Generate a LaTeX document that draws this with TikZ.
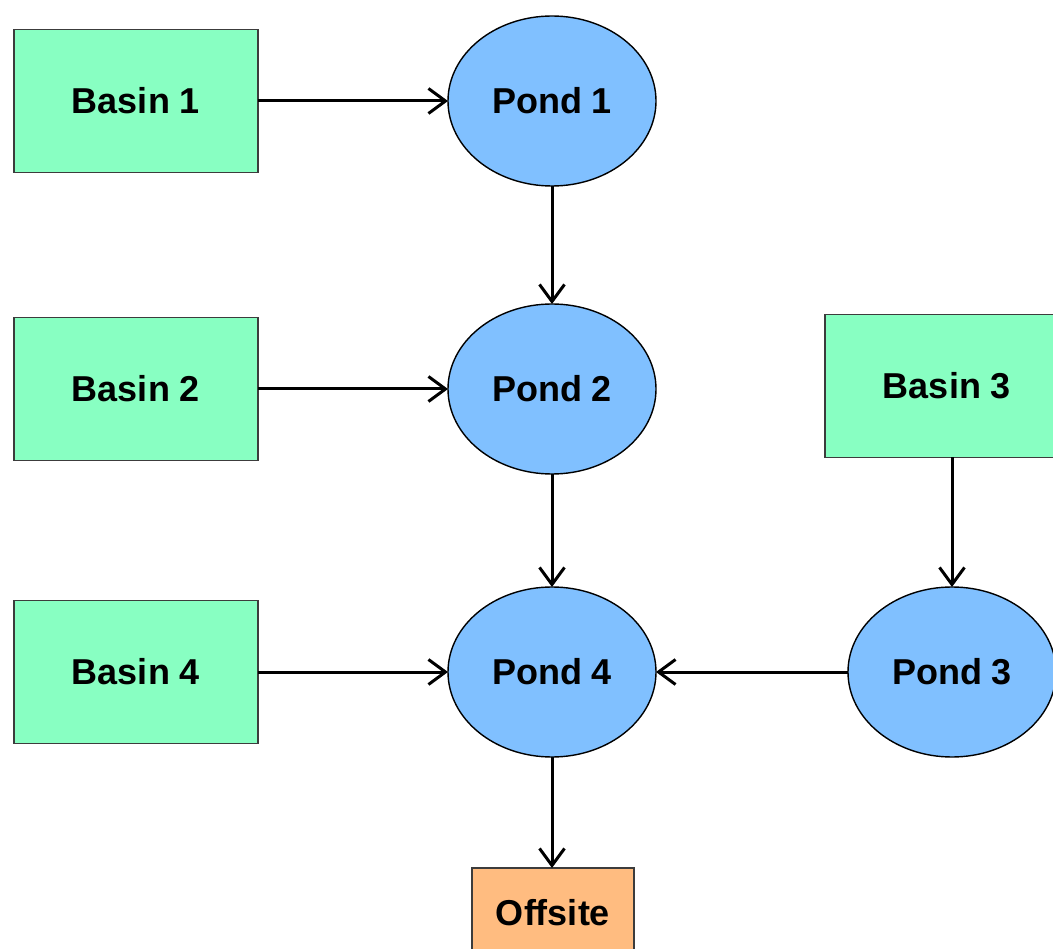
\documentclass[tikz,border=0pt]{standalone}
\usepackage{fontspec}
\setmainfont{Liberation Sans}
\usetikzlibrary{shapes.geometric,arrows.meta}
\definecolor{basinfill}{RGB}{136,255,194}
\definecolor{pondfill}{RGB}{128,192,255}
\definecolor{offfill}{RGB}{255,188,128}
\definecolor{boxline}{RGB}{60,60,60}
\begin{document}
\begin{tikzpicture}[x=1pt,y=-1pt,
  lbl/.style={font=\fontsize{36}{40}\selectfont\bfseries, text=black},
  basin/.style={lbl, rectangle, draw=boxline, line width=1.4pt, fill=basinfill,
    minimum width=244pt, minimum height=143pt, inner sep=0pt, outer sep=0pt},
  pond/.style={lbl, ellipse, draw=black, line width=1.4pt, fill=pondfill,
    minimum width=208pt, minimum height=170pt, inner sep=0pt, outer sep=0pt},
  offbox/.style={lbl, rectangle, draw=boxline, line width=1.4pt, fill=offfill,
    minimum width=162pt, minimum height=90pt, inner sep=0pt, outer sep=0pt},
  flow/.style={line width=3pt, -{Straight Barb[length=17pt,width=25pt,line width=3pt]}}]
\useasboundingbox (0,0) rectangle (1053,949);
\clip (0,0) rectangle (1053,949);
\node[basin] (b1) at (136,101) {Basin 1};
\node[basin] (b2) at (136,389) {Basin 2};
\node[basin] (b4) at (136,672) {Basin 4};
\node[basin] (b3) at (947,386) {Basin 3};
\node[pond] (p1) at (552,101) {Pond 1};
\node[pond] (p2) at (552,389) {Pond 2};
\node[pond] (p4) at (552,672) {Pond 4};
\node[pond] (p3) at (952,672) {Pond 3};
\node[offbox] (off) at (553,913) {Offsite};
\draw[flow] (b1.east) -- (p1.west);
\draw[flow] (b2.east) -- (p2.west);
\draw[flow] (b4.east) -- (p4.west);
\draw[flow] (p1.south) -- (p2.north);
\draw[flow] (p2.south) -- (p4.north);
\draw[flow] (b3.south -| p3.north) -- (p3.north);
\draw[flow] (p3.west) -- (p4.east);
\draw[flow] (p4.south) -- (off.north -| p4.south);
\end{tikzpicture}
\end{document}
